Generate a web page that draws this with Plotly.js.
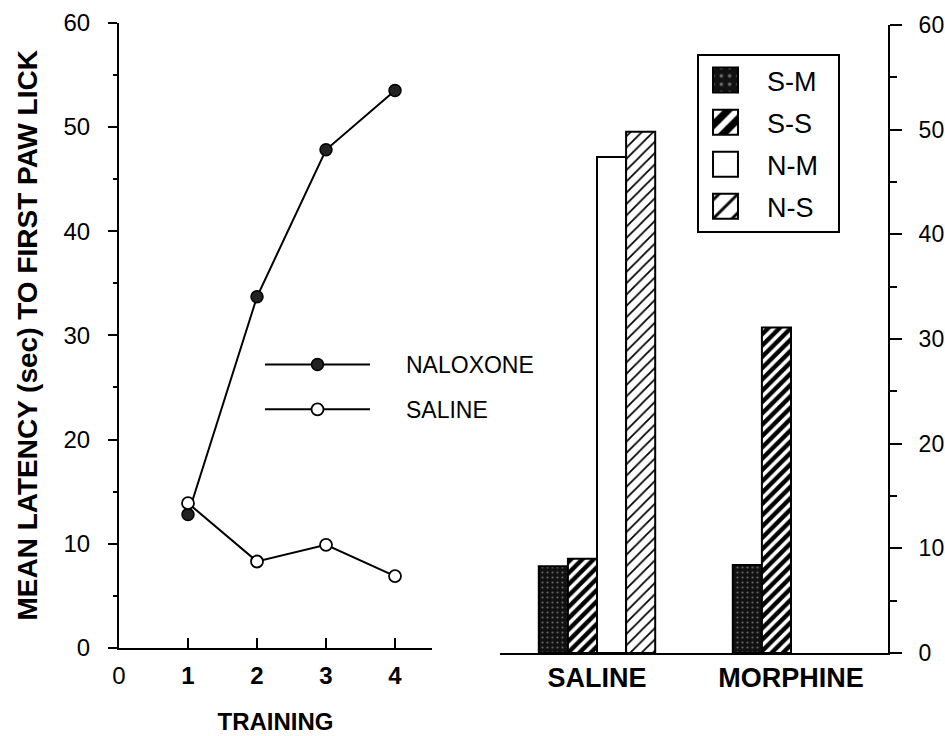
<!DOCTYPE html>
<html>
<head>
<meta charset="utf-8">
<script src="https://cdn.plot.ly/plotly-3.0.1.min.js"></script>
<style>
html,body{margin:0;padding:0;background:#fff}
/* line legend: text sits further right of the key, as in the original */
#chart g.legend2 g{clip-path:none !important}
#chart g.legend2 text{transform:translate(31px,0)}
/* bar legend: larger swatches */
#chart g.legend .legendpoints path{transform-box:fill-box;transform-origin:center;transform:translate(26.5px,0) scale(2.08);vector-effect:non-scaling-stroke}
</style>
</head>
<body>
<div id="chart" style="width:945px;height:736px"></div>
<script>
// ---- data ----
const trainingDays = [1, 2, 3, 4];
const naloxoneLatency = [12.8, 33.7, 47.8, 53.5];
const salineLatency = [13.9, 8.3, 9.9, 6.9];

const testCategories = ['SALINE', 'MORPHINE'];
const groupNames = ['S-M', 'S-S', 'N-M', 'N-S'];
const smValues = [8.3, 8.4];
const ssValues = [9.0, 31.1];
const nmValues = [47.4, null];
const nsValues = [49.8, null];

const xTickVals = [0, 1, 2, 3, 4];
const xTickText = ['0', '<b>1</b>', '<b>2</b>', '<b>3</b>', '<b>4</b>'];
const yTickVals = [0, 10, 20, 30, 40, 50, 60];

// ---- styles ----
const FONT = 'Liberation Sans, Arial, Helvetica, sans-serif';
const barValues = [smValues, ssValues, nmValues, nsValues];
const barPatterns = [
  {shape: '.', bgcolor: '#111', fgcolor: '#666', size: 5, solidity: 0.15},
  {shape: '/', bgcolor: '#000', fgcolor: '#fff', size: 8, solidity: 0.45},
  {shape: '', bgcolor: '#fff', fgcolor: '#000', size: 8, solidity: 0.2},
  {shape: '/', bgcolor: '#fff', fgcolor: '#000', size: 8, solidity: 0.22}
];

const data = [
  {
    type: 'scatter', mode: 'lines+markers', name: 'NALOXONE',
    x: trainingDays, y: naloxoneLatency, xaxis: 'x', yaxis: 'y',
    legend: 'legend2', legendgroup: 'nal',
    line: {color: '#000', width: 2},
    marker: {symbol: 'circle', size: 12, color: '#222', line: {color: '#000', width: 1.5}}
  },
  {
    type: 'scatter', mode: 'lines+markers', name: 'SALINE',
    x: trainingDays, y: salineLatency, xaxis: 'x', yaxis: 'y',
    legend: 'legend2', legendgroup: 'sal',
    line: {color: '#000', width: 2},
    marker: {symbol: 'circle', size: 12, color: '#fff', line: {color: '#000', width: 1.8}}
  }
];

groupNames.forEach((name, i) => {
  data.push({
    type: 'bar', name: name + '\u00a0\u00a0', x: testCategories, y: barValues[i],
    xaxis: 'x2', yaxis: 'y2', legend: 'legend', legendgroup: name,
    marker: {color: barPatterns[i].bgcolor, line: {color: '#000', width: 2},
             pattern: barPatterns[i]}
  });
});

const axisBase = {
  showline: true, linewidth: 2, linecolor: '#000', showgrid: false, zeroline: false,
  tickcolor: '#000', tickwidth: 2, fixedrange: true
};

const layout = {
  width: 945, height: 736,
  margin: {l: 0, r: 0, t: 0, b: 0},
  paper_bgcolor: '#fff', plot_bgcolor: 'rgba(0,0,0,0)',
  font: {family: FONT, color: '#000', size: 24},
  showlegend: true,
  barmode: 'group', bargap: 0.4, bargroupgap: 0,
  xaxis: Object.assign({}, axisBase, {
    domain: [119 / 945, 432 / 945], range: [0, 4.536], anchor: 'y',
    tickmode: 'array', tickvals: xTickVals, ticktext: xTickText,
    ticks: 'inside', ticklen: 10, ticklabelstandoff: 5,
    tickfont: {size: 24, family: FONT},
    title: {text: 'TRAINING', font: {size: 24, weight: 'bold', family: FONT}, standoff: 25}
  }),
  yaxis: Object.assign({}, axisBase, {
    domain: [88 / 736, 713.3 / 736], range: [0, 60], anchor: 'x',
    tickmode: 'array', tickvals: yTickVals,
    ticks: 'outside', ticklen: 9, ticklabelstandoff: 13,
    minor: {dtick: 5, tick0: 0, ticks: 'outside', ticklen: 4, tickwidth: 2, tickcolor: '#000'},
    tickfont: {size: 24, family: FONT},
    title: {text: 'MEAN LATENCY (sec) TO FIRST PAW LICK', font: {size: 28, weight: 'bold', family: FONT}, standoff: 18}
  }),
  xaxis2: Object.assign({}, axisBase, {
    domain: [500 / 945, 888 / 945], range: [-0.5, 1.5], type: 'category', anchor: 'y2',
    ticks: '', ticklabelstandoff: 0,
    tickfont: {size: 27, weight: 'bold', family: FONT}
  }),
  yaxis2: Object.assign({}, axisBase, {
    domain: [83 / 736, 711 / 736], range: [0, 60], anchor: 'x2', side: 'right',
    tickmode: 'array', tickvals: yTickVals,
    ticks: 'outside', ticklen: 12, ticklabelstandoff: 12,
    minor: {dtick: 5, tick0: 0, ticks: 'outside', ticklen: 7, tickwidth: 2, tickcolor: '#000'},
    tickfont: {size: 23, family: FONT}
  }),
  legend: {
    x: 697 / 945, y: 1 - 54 / 736, xanchor: 'left', yanchor: 'top',
    bgcolor: '#fff', bordercolor: '#000', borderwidth: 2,
    font: {size: 27, family: FONT}, tracegroupgap: 4, itemwidth: 58,
    itemclick: false, itemdoubleclick: false
  },
  legend2: {
    x: 260 / 945, y: 1 - 343 / 736, xanchor: 'left', yanchor: 'top',
    bgcolor: 'rgba(0,0,0,0)', borderwidth: 0,
    font: {size: 23, family: FONT}, tracegroupgap: 12, itemwidth: 105,
    itemclick: false, itemdoubleclick: false
  }
};

Plotly.newPlot('chart', data, layout, {staticPlot: true, displayModeBar: false});
</script>
</body>
</html>
